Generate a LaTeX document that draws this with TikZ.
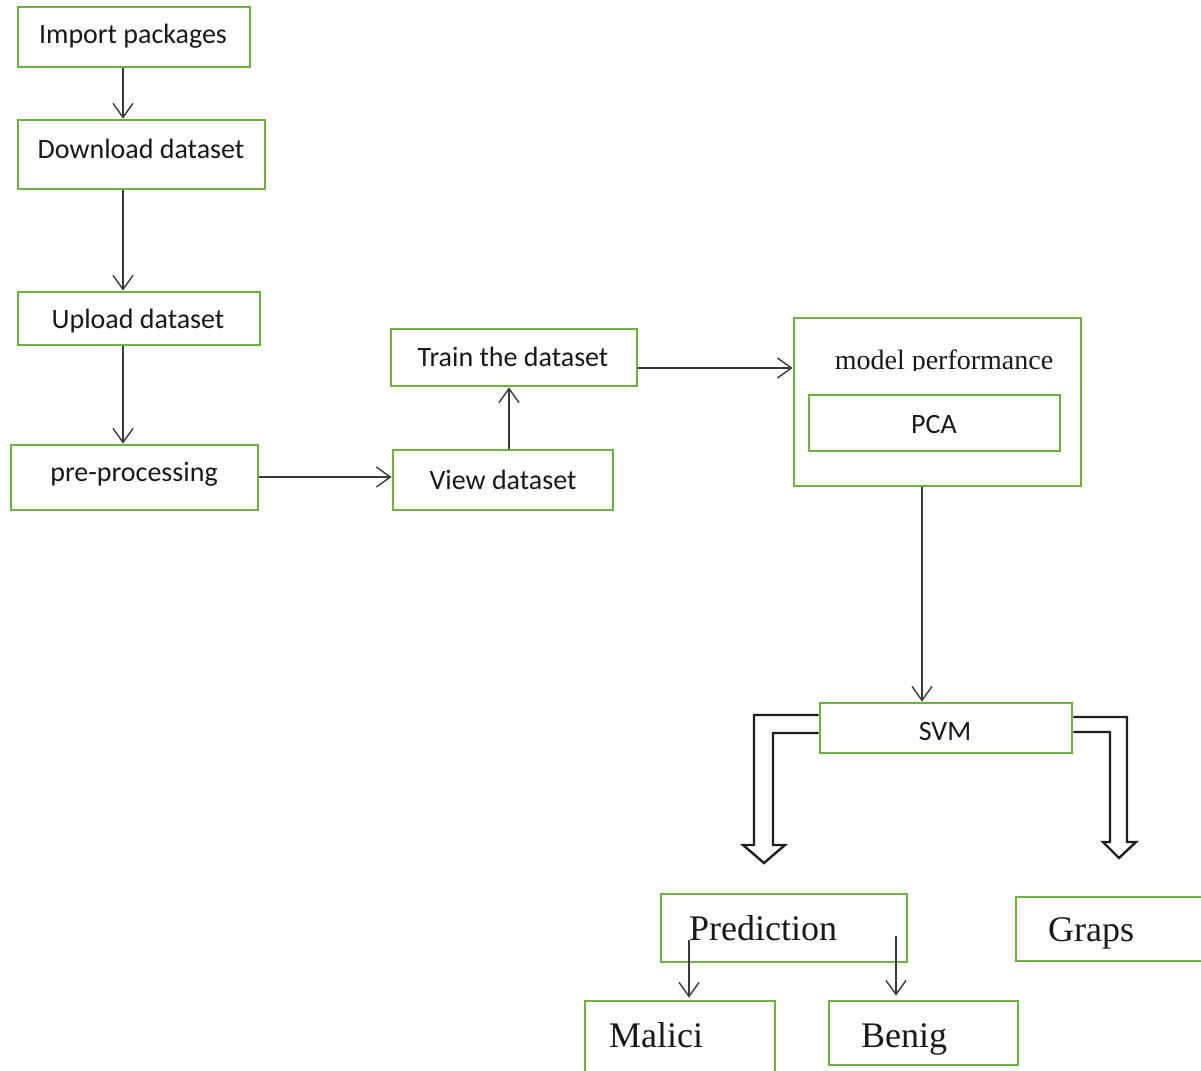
\documentclass[tikz,border=0pt]{standalone}
\usepackage{fontspec}
\setmainfont{Liberation Serif}
\newfontfamily\calfont{Carlito}
\usetikzlibrary{arrows.meta,fit}
\definecolor{boxgreen}{HTML}{6FB043}
\definecolor{arrgray}{HTML}{3A3A3A}
\tikzset{
  box/.style={draw=boxgreen, line width=2.8pt, inner sep=0pt, fill=white},
  sanslbl/.style={font=\calfont\fontsize{28}{32}\selectfont, text=black!90, inner sep=0pt},
  seriflbl/.style={font=\fontsize{36}{40}\selectfont, text=black!90, inner sep=0pt},
  arr/.style={draw=arrgray, line width=1.4pt, -{Straight Barb[length=14pt,width=20pt,line width=1.4pt]}},
  blockarr/.style={draw=black!88, line width=2.4pt, fill=white, line join=miter},
}
\begin{document}
\begin{tikzpicture}[x=1pt,y=-1pt]
\useasboundingbox (0,0) rectangle (1201,1070);
\fill[white] (0,0) rectangle (1201,1070);

% boxes
\node[box, fit={(18,7) (250,67)}] (imp) {};
\node[box, fit={(18,120) (265,189)}] (dl) {};
\node[box, fit={(18,292) (260,345)}] (up) {};
\node[box, fit={(11,445) (258,510)}] (pre) {};
\node[box, fit={(393,450) (613,510)}] (view) {};
\node[box, fit={(391,329) (637,386)}] (train) {};
\node[box, fit={(794,318) (1081,486)}] (mp) {};
\node[box, fit={(809,395) (1060,451)}] (pca) {};
\node[box, fit={(820,703) (1072,753)}] (svm) {};
\node[box, fit={(661,894) (907,962)}] (pred) {};
\node[box, fit={(1016,897) (1215,961)}] (graps) {};
\node[box, fit={(585,1001) (775,1085)}] (mal) {};
\node[box, fit={(829,1001) (1018,1065)}] (ben) {};

% labels
\node[sanslbl] at (133,36) {Import packages};
\node[sanslbl] at (141,149) {Download dataset};
\node[sanslbl] at (138,321) {Upload dataset};
\node[sanslbl] at (134,474) {pre-processing};
\node[sanslbl] at (503,480) {View dataset};
\node[sanslbl] at (513,357) {Train the dataset};
\node[sanslbl] at (934,425) {PCA};
\node[sanslbl] at (945,732) {SVM};
\begin{scope}
  \clip (800,330) rectangle (1076,370);
  \node[font=\fontsize{28}{32}\selectfont, text=black!90, inner sep=0pt, anchor=base] at (944,369) {model performance};
\end{scope}
\node[seriflbl, anchor=base west] at (689,940) {Prediction};
\node[seriflbl, anchor=base west] at (1048,941) {Graps};
\node[seriflbl, anchor=base west] at (609,1047) {Malici};
\node[seriflbl, anchor=base west] at (861,1047) {Benig};

% x / y guides for connectors
\coordinate (xa) at (123,0);
\coordinate (yb) at (0,477);
\coordinate (xc) at (509,0);
\coordinate (yd) at (0,368);
\coordinate (xe) at (922,0);
\coordinate (pm) at (689,940);
\coordinate (pb) at (896,936);

% connectors
\draw[arr] (imp.south -| xa) -- (dl.north -| xa);
\draw[arr] (dl.south -| xa) -- (up.north -| xa);
\draw[arr] (up.south -| xa) -- (pre.north -| xa);
\draw[arr] (pre.east |- yb) -- (view.west |- yb);
\draw[arr] (view.north -| xc) -- (train.south -| xc);
\draw[arr] (train.east |- yd) -- (mp.west |- yd);
\draw[arr] (mp.south -| xe) -- (svm.north -| xe);
\draw[arr] (pm) -- ([yshift=2pt]mal.north -| pm);
\draw[arr] (pb) -- ([yshift=4pt]ben.north -| pb);

% block arrows from SVM
\draw[blockarr] (svm.west |- {(0,715)}) -- (754,715) -- (754,845) -- (743,845) -- (764,863)
  -- (785,845) -- (773,845) -- (773,733) -- (svm.west |- {(0,733)});
\draw[blockarr] (svm.east |- {(0,717)}) -- (1127,717) -- (1127,842) -- (1136,842) -- (1119,858)
  -- (1103,842) -- (1110,842) -- (1110,732) -- (svm.east |- {(0,732)});
\end{tikzpicture}
\end{document}
